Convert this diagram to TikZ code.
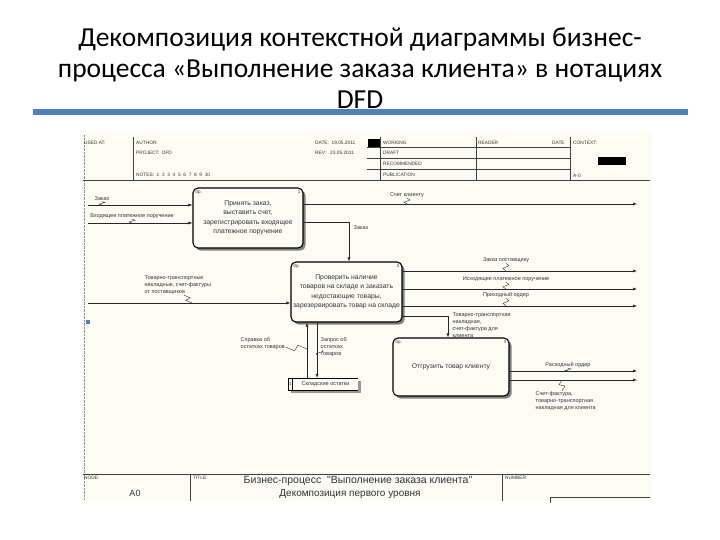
\documentclass[tikz,border=0pt]{standalone}
\usepackage{fontspec}
\setmainfont{Carlito}
\newfontfamily\diagfont{Liberation Sans}
\usetikzlibrary{arrows.meta, positioning, calc, shadows}

\definecolor{paper}{RGB}{253,252,242}
\definecolor{titlebar}{RGB}{79,129,189}

\begin{document}
\begin{tikzpicture}[x=1pt, y=-1pt,
        proc/.style={draw=black, line width=1.1pt, rounded corners=5pt, fill=paper, text=black!80,
            font=\diagfont\fontsize{6.8}{9.3}\selectfont, align=center, inner sep=1pt,
            drop shadow={shadow xshift=2.5pt, shadow yshift=-2.5pt, fill=black!50, opacity=1}},
        store/.style={fill=paper, text=black!80, font=\diagfont\fontsize{5.5}{7}\selectfont, inner sep=0pt,
            minimum width=70pt, minimum height=12pt,
            drop shadow={shadow xshift=2.5pt, shadow yshift=-2.5pt, fill=black!40, opacity=1}},
        flow/.style={-{Latex[length=4pt, width=3pt]}, line width=0.55pt, draw=black!85},
        lbl/.style={font=\diagfont\fontsize{5.5}{7}\selectfont, text=black!80, align=left, inner sep=0.5pt},
        tag/.style={font=\diagfont\fontsize{4.5}{5}\selectfont, text=black!80, inner sep=0pt},
        hdr/.style={font=\diagfont\fontsize{4.8}{5}\selectfont, text=black!80, anchor=west, inner sep=0pt},
        rule/.style={line width=0.6pt, draw=black!75},
        squig/.style={line width=0.4pt, draw=black!80, to path={-- ($(\tikztostart)!0.4!(\tikztotarget)+(3,-0.5)$)
            -- ($(\tikztostart)!0.6!(\tikztotarget)+(-3,0.5)$) -- (\tikztotarget)}},
        squigh/.style={line width=0.4pt, draw=black!80, to path={-- ($(\tikztostart)!0.4!(\tikztotarget)+(0.5,3)$)
            -- ($(\tikztostart)!0.6!(\tikztotarget)+(-0.5,-3)$) -- (\tikztotarget)}}
    ]
    \useasboundingbox (0,0) rectangle (720,540);
    \fill[white] (0,0) rectangle (720,540);

    % slide title
    \node[font=\fontsize{27.5}{31}\selectfont, align=center] (title) at (360,68)
        {Декомпозиция контекстной диаграммы бизнес-\\процесса «Выполнение заказа клиента» в нотациях\\DFD};
    \fill[titlebar] (33,109) rectangle (688,115);

    % sheet
    \fill[paper] (83,133) rectangle (652,501);
    \draw[densely dotted, black!45] (84,135) -- (84,500);
    \fill[titlebar] (86,320) rectangle (90,324);

    % header frame
    \draw[rule] (83,180) -- (650,180);
    \draw[rule] (133,137) -- (133,180);
    \draw[rule] (380,137) -- (380,180);
    \draw[rule] (476,137) -- (476,180);
    \draw[rule] (570,137) -- (570,180);
    \foreach \y in {147,158,169}
        \draw[rule] (367,\y) -- (570,\y);
    \fill (368,139) rectangle (380,147);
    \fill (598,157) rectangle (626,165);
    \foreach \x/\y/\t [count=\i] in {84/143/USED AT:, 136/143/AUTHOR:, 136/153/PROJECT:\ \ DFD,
            136/175/NOTES:\ \ 1\ \ 2\ \ 3\ \ 4\ \ 5\ \ 6\ \ 7\ \ 8\ \ 9\ \ 10,
            315/143/DATE:\ \ 19.05.2011, 315/153/REV:\ \ \ 23.05.2011,
            383/143/WORKING, 383/153/DRAFT, 383/164/RECOMMENDED, 383/175/PUBLICATION,
            478/143/READER, 552/143/DATE, 573/143/CONTEXT:, 573/176/A-0}
        \node[hdr] (h\i) at (\x,\y) {\t};

    % footer frame
    \draw[rule] (83,474) -- (650,474);
    \draw[rule] (190,474) -- (190,501);
    \draw[rule] (502,474) -- (502,501);
    \draw[rule] (550,503) -- (550,497) -- (650,497);
    \node[hdr] (fNode) at (84,478) {NODE:};
    \node[hdr] (fTitle) at (193,478) {TITLE:};
    \node[hdr] (fNumber) at (505,478) {NUMBER:};
    \node[font=\diagfont\fontsize{9}{10}\selectfont, text=black!80] (fA0) at (135,493) {A0};
    \node[font=\diagfont\fontsize{10.5}{11}\selectfont, text=black!80] (fName) at (358,481)
        {Бизнес-процесс \ "Выполнение заказа клиента"};
    \node[font=\diagfont\fontsize{10}{11}\selectfont, text=black!80] (fLevel) at (350,494)
        {Декомпозиция первого уровня};

    % processes
    \node[proc, minimum width=110pt, minimum height=60pt] (p1) at (248,218)
        {Принять заказ,\\выставить счет,\\зарегистрировать входящее\\платежное поручение};
    \node[proc, minimum width=111pt, minimum height=60pt] (p2) at (346.5,292)
        {Проверить наличие\\товаров на складе и заказать\\недостающие товары,\\зарезервировать товар на складе};
    \node[proc, minimum width=116pt, minimum height=58pt] (p3) at (451,367)
        {Отгрузить товар клиенту};
    \foreach \p/\n in {p1/1, p2/2, p3/3} {
        \node[tag, anchor=north west] (\p op) at ([shift={(3,3)}]\p.north west) {0р.};
        \node[tag, anchor=north east] (\p num) at ([shift={(-3,3)}]\p.north east) {\n};
    }

    % data store
    \node[store] (store) at (323,384) {\hspace{5pt}Складские остатки};
    \draw[line width=0.6pt] (store.north east) -- (store.north west) -- (store.south west) -- (store.south east);
    \draw[line width=1.1pt] ($(store.north west)+(5,0)$) -- ($(store.south west)+(5,0)$);
    \node[tag] (storeNum) at ($(store.west)+(2.5,0)$) {1};

    % flows
    \coordinate (srcOrder) at (88,205);
    \coordinate (srcPay) at (88,223);
    \coordinate (srcWaybill) at (88,303);
    \coordinate (dstBill) at (637,204);
    \coordinate (dstSupp) at (637,271);
    \coordinate (dstPayOut) at (637,289);
    \coordinate (dstReceipt) at (637,306);
    \coordinate (dstIssue) at (637,371);
    \coordinate (dstInv) at (637,380);
    \draw[flow] (srcOrder) -- (srcOrder -| p1.west);
    \draw[flow] (srcPay) -- (srcPay -| p1.west);
    \draw[flow] (srcWaybill) -- (srcWaybill -| p2.west);
    \draw[flow] (dstBill -| p1.east) -- (dstBill);
    \draw[flow] ($(p1.east)+(0,4)$) -| ($(p2.north)+(2.5,0)$);
    \draw[flow] (dstSupp -| p2.east) -- (dstSupp);
    \draw[flow] (dstPayOut -| p2.east) -- (dstPayOut);
    \draw[flow] (dstReceipt -| p2.east) -- (dstReceipt);
    \draw[flow] ($(p2.east)+(0,24)$) -| ($(p3.north)+(-3,0)$);
    \draw[flow] ($(store.north)+(-16,0)$) coordinate (upA) -- (upA |- p2.south);
    \draw[flow] ($(p2.south)+(-29.5,0)$) coordinate (dnA) -- (dnA |- store.north);
    \draw[flow] (dstIssue -| p3.east) -- (dstIssue);
    \draw[flow] (dstInv -| p3.east) -- (dstInv);

    % flow labels
    \node[lbl, anchor=west] (lOrder) at (94,199) {Заказ};
    \node[lbl] (lPay) at (132,216) {Входящее платежное поручение};
    \node[lbl] (lBill) at (407,195) {Счет клиенту};
    \node[lbl, anchor=west] (lOrder2) at (353,228) {Заказ};
    \node[lbl, anchor=west] (lWaybillIn) at (144,285) {Товарно-транспортные\\накладные, счет-фактуры\\от поставщиков};
    \node[lbl] (lSupp) at (506,260) {Заказ поставщику};
    \node[lbl] (lPayOut) at (506,279) {Исходящее платежное поручение};
    \node[lbl] (lReceipt) at (506,295) {Приходный ордер};
    \node[lbl, anchor=west] (lWaybillOut) at (452,325) {Товарно-транспортная\\накладная,\\счет-фактура для\\клиента};
    \node[lbl, anchor=west] (lStock) at (240,344) {Справка об\\остатках товаров};
    \node[lbl, anchor=west] (lQuery) at (320,347) {Запрос об\\остатках\\товаров};
    \node[lbl] (lIssue) at (568,365) {Расходный ордер};
    \node[lbl, anchor=west] (lInvOut) at (535,401) {Счет-фактура,\\товарно-транспортная\\накладная для клиента};

    % squiggles
    \draw[squig] (lOrder.south) to (lOrder.south |- srcOrder);
    \draw[squig] (lPay.south) to (lPay.south |- srcPay);
    \draw[squig] (lBill.south) to (lBill.south |- dstBill);
    \path ($(lWaybillIn.south west)+(40,0)$) coordinate (sqWay);
    \draw[squig] (sqWay) to ($(sqWay |- srcWaybill)+(8,0)$);
    \draw[squig] (lSupp.south) to (lSupp.south |- dstSupp);
    \draw[squig] (lPayOut.south) to (lPayOut.south |- dstPayOut);
    \draw[squig] (lReceipt.south) to (lReceipt.south |- dstReceipt);
    \draw[squigh] ($(lStock.east)+(0,3)$) to ($(lStock.east -| upA)+(0,5)$);
    \draw[squig] ($(lQuery.west)+(2,3)$) to ($(lQuery.west -| dnA)+(0,8)$);
    \draw[squig] (lIssue.south) to (lIssue.south |- dstIssue);
    \path ($(lInvOut.north west)+(27,0)$) coordinate (sqInv);
    \draw[squig] (sqInv) to (sqInv |- dstInv);
\end{tikzpicture}
\end{document}
